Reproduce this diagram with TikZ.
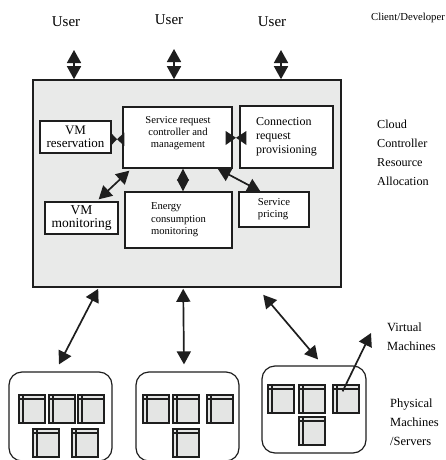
\documentclass[tikz,border=0pt]{standalone}
\usepackage{fontspec}
\setmainfont{Liberation Serif}
\usetikzlibrary{arrows.meta,calc}
\definecolor{panel}{RGB}{233,234,233}
\definecolor{vmfill}{RGB}{228,229,228}
\definecolor{ink}{RGB}{30,30,30}
\begin{document}
\begin{tikzpicture}[x=1pt,y=-1pt,
  box/.style={draw=ink, line width=1.3pt, fill=white, inner sep=0pt},
  dbl/.style={draw=ink, line width=1.7pt, {Triangle[length=13pt,width=14pt]}-{Triangle[length=13pt,width=14pt]}},
  sgl/.style={draw=ink, line width=1.7pt, -{Triangle[length=13pt,width=14pt]}},
  dia/.style={draw=ink, line width=1.2pt, {Triangle[length=12pt,width=12pt]}-{Triangle[length=12pt,width=12pt]}},
  lbl/.style={inner sep=0pt, align=left},
  srv/.style={draw=ink, line width=1.2pt, rounded corners=13pt, inner sep=0pt},
  vm/.pic={\draw[draw=ink, line width=1.2pt, fill=vmfill] (0,0) rectangle (26,28);
           \draw[draw=ink, line width=1.2pt] (4,0)--(4,28) (0,4)--(26,4);}
]
\useasboundingbox (0,0) rectangle (445,460);

% top labels
\node[lbl, font=\fontsize{15}{18}\selectfont] (u1) at (66,22) {User};
\node[lbl, font=\fontsize{15}{18}\selectfont] (u2) at (169,20) {User};
\node[lbl, font=\fontsize{15}{18}\selectfont] (u3) at (272,22) {User};
\node[lbl, font=\fontsize{10.7}{13}\selectfont] (cd) at (408,18) {Client/Developer};

% main panel
\node[draw=ink, line width=1.6pt, fill=panel, minimum width=308, minimum height=207, inner sep=0pt] (main) at (187,183.5) {};

\node[lbl, anchor=west, font=\fontsize{12.2}{19}\selectfont] (ccra) at (377,152.5) {Cloud\\Controller\\Resource\\Allocation};

% inner boxes
\node[box, minimum width=109, minimum height=61] (src) at (177.5,137.5) {};
\node[lbl, align=center, font=\fontsize{10.6}{12}\selectfont] (srct) at (178,133) {Service request\\controller and\\management};
\node[box, minimum width=93, minimum height=62, align=left, font=\fontsize{12}{14}\selectfont] (conn) at (286.5,137) {Connection\\request\\provisioning};
\node[box, minimum width=71, minimum height=32, align=center, font=\fontsize{13}{12.5}\selectfont] (res) at (75.5,137) {VM\\reservation};
\node[box, minimum width=73, minimum height=32, align=center, font=\fontsize{13.5}{13}\selectfont] (mon) at (81.5,218) {VM\\monitoring};
\node[box, minimum width=107, minimum height=56, align=left, font=\fontsize{10.6}{12.5}\selectfont] (energy) at (178.5,220) {Energy\\consumption\\monitoring};
\node[box, minimum width=70, minimum height=35, align=left, font=\fontsize{10.7}{12}\selectfont] (price) at (274,209.5) {Service\\pricing};

% user arrows
\coordinate (t1) at (74,50);
\coordinate (t2) at (174,49);
\coordinate (t3) at (281,50);
\draw[dbl] (t1) -- (t1 |- main.north);
\draw[dbl] (t2) -- (t2 |- main.north);
\draw[dbl] (t3) -- (t3 |- main.north);

% bow ties
\coordinate (bl) at ($(res.east)!.5!(src.west)+(0,2)$);
\coordinate (br) at ($(src.east)!.5!(conn.west)+(0,0.5)$);
\fill[ink] ($(res.east)+(-1,-4.5)$) -- ($(res.east)+(-1,9)$) -- (bl) -- cycle;
\fill[ink] ($(src.west)+(2,-5)$) -- ($(src.west)+(2,8.5)$) -- (bl) -- cycle;
\fill[ink] ($(src.east)+(-7,-6.5)$) -- ($(src.east)+(-7,7.5)$) -- (br) -- cycle;
\fill[ink] ($(conn.west)+(7,-6)$) -- ($(conn.west)+(7,8)$) -- (br) -- cycle;

% inner arrows
\draw[dbl] ($(src.south west)+(7,2)$) -- ($(mon.north east)+(-20,-2)$);
\draw[dbl] ($(src.south east)+(-15,0)$) -- ($(price.north west)+(22,0)$);
\draw[dia] ($(src.south)+(5.5,0)$) -- ($(energy.north)+(4.5,0)$);

% servers
\node[srv, minimum width=103, minimum height=89] (b1) at (60.5,416.5) {};
\node[srv, minimum width=103, minimum height=89] (b2) at (187.5,416.5) {};
\node[srv, minimum width=104, minimum height=87] (b3) at (314,409.5) {};

\pic at (19,395) {vm}; \pic at (49,395) {vm}; \pic at (78,395) {vm};
\pic at (33,429) {vm}; \pic at (72,429) {vm};
\pic at (143,395) {vm}; \pic at (173,395) {vm}; \pic at (207,395) {vm};
\pic at (173,429) {vm};
\pic at (268,385) {vm}; \pic at (299,385) {vm}; \pic at (333,385) {vm};
\pic at (299,417) {vm};

% bottom arrows
\draw[dbl] ($(main.south west)+(66,1)$) -- ($(b1.north)+(-1.5,-7)$);
\draw[dbl] ($(main.south west)+(151,1)$) -- ($(b2.north)+(-3.5,-7)$);
\draw[dbl] ($(main.south west)+(231,7)$) -- ($(b3.north)+(4,-6)$);
\coordinate (vmtip) at (371,333);
\draw[sgl] ($(b3.north east)+(-24,26)$) -- (vmtip);

\node[lbl, anchor=west, font=\fontsize{12.5}{19}\selectfont] (vmlab) at (387,336.5) {Virtual\\Machines};
\node[lbl, anchor=west, font=\fontsize{12.5}{19}\selectfont] (pmlab) at (390,422) {Physical\\Machines\\/Servers};
\end{tikzpicture}
\end{document}
